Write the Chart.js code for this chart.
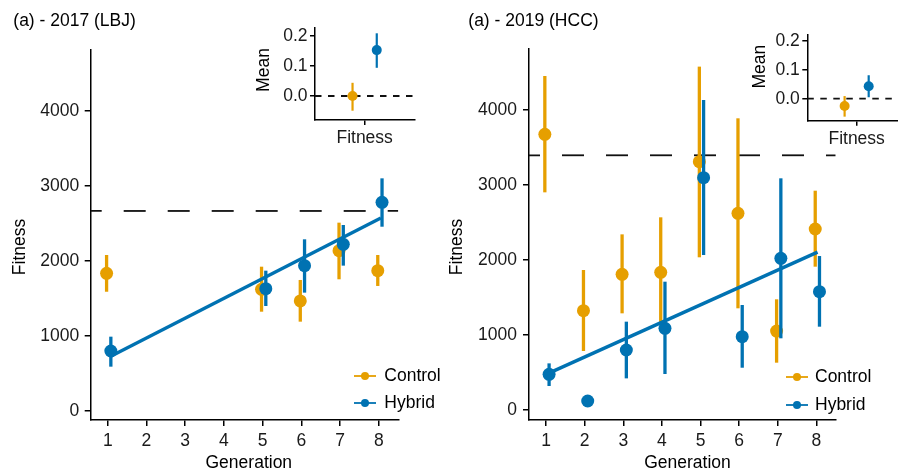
<!DOCTYPE html>
<html>
<head>
<meta charset="utf-8">
<script src="https://cdn.jsdelivr.net/npm/chart.js@4.4.1/dist/chart.umd.min.js"></script>
<style>
  html, body { margin: 0; padding: 0; background: #fff; }
  #wrap { position: relative; width: 898px; height: 470px; overflow: hidden; }
  canvas { position: absolute; top: 0; }
</style>
</head>
<body>
<div id="wrap">
  <canvas id="main17" width="449" height="470" style="left:0"></canvas>
  <canvas id="main19" width="449" height="470" style="left:449px"></canvas>
  <canvas id="inset17" width="180" height="160" style="left:240px"></canvas>
  <canvas id="inset19" width="180" height="160" style="left:732px"></canvas>
</div>
<script>
/* ===== DATA ===== */
const xTicks = [1, 2, 3, 4, 5, 6, 7, 8];
const yTicks = [0, 1000, 2000, 3000, 4000];
const insetTicks = [0, 0.1, 0.2];

// 2017 (LBJ)
const gens17 = [1, 5, 6, 7, 8];
const ctrl17 = [1835, 1622, 1467, 2137, 1871];
const ctrl17Lo = [1590, 1324, 1191, 1756, 1667];
const ctrl17Hi = [2080, 1924, 1747, 2511, 2080];
const hyb17 = [800, 1631, 1938, 2222, 2782];
const hyb17Lo = [591, 1400, 1578, 1938, 2457];
const hyb17Hi = [991, 1871, 2289, 2480, 3102];
const fit17X = [1.08, 8.05];
const fit17Y = [730, 2574];
const ref17 = 2667;

// 2019 (HCC)
const gens19 = [1, 2, 3, 4, 5, 6, 7, 8];
const ctrl19 = [3676, 1324, 1809, 1836, 3311, 2622, 1053, 2413];
const ctrl19Lo = [2902, 787, 1289, 1170, 2036, 1356, 631, 1911];
const ctrl19Hi = [4453, 1867, 2342, 2569, 4578, 3889, 1476, 2924];
const hyb19 = [476, 120, 800, 1089, 3098, 978, 2022, 1578];
const hyb19Lo = [320, null, 422, 480, 2067, 564, 956, 1111];
const hyb19Hi = [622, null, 1178, 1711, 4133, 1400, 3089, 2053];
const fit19X = [1.06, 8.03];
const fit19Y = [489, 2105];
const ref19 = 3396;

// inset means
const insetMean17 = [0.0, 0.153];
const insetLo17 = [-0.049, 0.094];
const insetHi17 = [0.044, 0.209];
const insetMean19 = [-0.025, 0.043];
const insetLo19 = [-0.062, 0.005];
const insetHi19 = [0.009, 0.081];

/* ===== STYLE ===== */
const ORANGE = "#E69F00";
const BLUE = "#0072B2";
const FAMILY = "'Liberation Sans', Arial, Helvetica, sans-serif";
const FONT = { family: FAMILY, size: 17.5 };
const DODGE_C = -0.03, DODGE_H = 0.08, INSET_DODGE = 0.122;
const X_MIN = 0.56, X_MAX = 8.5;

/* ===== PLUGINS ===== */
const errorBars = {
  id: "errorBars",
  beforeDatasetDraw(chart, args) {
    const ds = chart.data.datasets[args.index];
    if (!ds.lo) return;
    const xs = chart.scales.x, ys = chart.scales.y, ctx = chart.ctx;
    ctx.save();
    ctx.strokeStyle = ds.backgroundColor;
    ctx.lineWidth = ds.errWidth;
    ds.data.forEach((p, i) => {
      if (ds.lo[i] == null) return;
      const px = xs.getPixelForValue(p.x);
      ctx.beginPath();
      ctx.moveTo(px, ys.getPixelForValue(ds.lo[i]));
      ctx.lineTo(px, ys.getPixelForValue(ds.hi[i]));
      ctx.stroke();
    });
    ctx.restore();
  }
};

const panelText = {
  id: "panelText",
  afterDraw(chart, args, opts) {
    const ctx = chart.ctx;
    ctx.save();
    ctx.fillStyle = "#000";
    ctx.font = FONT.size + "px " + FAMILY;
    ctx.textBaseline = "middle";
    (opts.items || []).forEach(t => {
      ctx.save();
      ctx.translate(t.x, t.y);
      if (t.rot) ctx.rotate(t.rot);
      ctx.textAlign = t.align || "center";
      ctx.fillText(t.text, 0, 0);
      ctx.restore();
    });
    const lg = opts.legend;
    if (lg) {
      lg.rows.forEach((r, i) => {
        const y = lg.y[i];
        ctx.strokeStyle = r.color;
        ctx.lineWidth = 1.8;
        ctx.beginPath();
        ctx.moveTo(lg.kx - 11, y);
        ctx.lineTo(lg.kx + 11, y);
        ctx.stroke();
        ctx.fillStyle = r.color;
        ctx.beginPath();
        ctx.arc(lg.kx, y, 4, 0, Math.PI * 2);
        ctx.fill();
        ctx.fillStyle = "#000";
        ctx.textAlign = "left";
        ctx.fillText(r.label, lg.tx, y);
      });
    }
    ctx.restore();
  }
};

function pts(xs, ys, off) {
  return xs.map((x, i) => ({ x: x + off, y: ys[i] }));
}

function axisGrid(len) {
  return { display: true, drawOnChartArea: false, drawTicks: true, tickLength: len, color: "#000", lineWidth: 1.5 };
}

/* ===== MAIN PANELS ===== */
function mainChart(id, d) {
  return new Chart(document.getElementById(id), {
    type: "scatter",
    data: {
      datasets: [
        { label: "fit", type: "line", data: pts(d.fitX, d.fitY, 0), borderColor: BLUE, borderWidth: 3.4,
          pointRadius: 0, showLine: true, order: 0 },
        { label: "Hybrid", data: pts(d.gens, d.hyb, DODGE_H), lo: d.hybLo, hi: d.hybHi, errWidth: 3.3,
          backgroundColor: BLUE, borderWidth: 0, pointRadius: 6.5, order: 1 },
        { label: "Control", data: pts(d.gens, d.ctrl, DODGE_C), lo: d.ctrlLo, hi: d.ctrlHi, errWidth: 3.3,
          backgroundColor: ORANGE, borderWidth: 0, pointRadius: 6.5, order: 2 },
        { label: "ref", type: "line", data: [{ x: X_MIN, y: d.ref }, { x: X_MAX, y: d.ref }], borderColor: "#111",
          borderWidth: 1.8, borderDash: [22, 22], borderDashOffset: 11, pointRadius: 0, showLine: true, order: 3 }
      ]
    },
    options: {
      responsive: false, animation: false, devicePixelRatio: 1, events: [],
      layout: { padding: d.pad },
      scales: {
        x: {
          type: "linear", min: X_MIN, max: X_MAX,
          afterBuildTicks: s => { s.ticks = xTicks.map(v => ({ value: v })); },
          afterFit: s => { s.height = 50; },
          grid: axisGrid(6), border: { display: true, color: "#000", width: 1.5 },
          ticks: { color: "#1a1a1a", font: FONT, padding: 5, maxRotation: 0, autoSkip: false, callback: v => String(v) }
        },
        y: {
          type: "linear", min: d.yMin, max: 4813,
          afterBuildTicks: s => { s.ticks = yTicks.map(v => ({ value: v })); },
          afterFit: s => { s.width = d.yWidth; },
          grid: axisGrid(6), border: { display: true, color: "#000", width: 1.5 },
          ticks: { color: "#1a1a1a", font: FONT, padding: d.yPad, autoSkip: false, callback: v => String(v) }
        }
      },
      plugins: {
        legend: { display: false }, tooltip: { enabled: false },
        panelText: {
          items: [
            { text: d.title, x: d.titleX, y: 21, align: "left" },
            { text: "Fitness", x: d.yTitleX, y: 247, rot: -Math.PI / 2 },
            { text: "Generation", x: d.xTitleX, y: 463 }
          ],
          legend: { kx: d.legKx, tx: d.legTx, y: d.legY,
            rows: [{ label: "Control", color: ORANGE }, { label: "Hybrid", color: BLUE }] }
        }
      }
    },
    plugins: [errorBars, panelText]
  });
}

/* ===== INSETS ===== */
function insetChart(id, d) {
  return new Chart(document.getElementById(id), {
    type: "scatter",
    data: {
      datasets: [
        { label: "Hybrid", data: [{ x: 1 + INSET_DODGE, y: d.mean[1] }], lo: [d.lo[1]], hi: [d.hi[1]], errWidth: 2.2,
          backgroundColor: BLUE, borderWidth: 0, pointRadius: 5, order: 1 },
        { label: "Control", data: [{ x: 1 - INSET_DODGE, y: d.mean[0] }], lo: [d.lo[0]], hi: [d.hi[0]], errWidth: 2.2,
          backgroundColor: ORANGE, borderWidth: 0, pointRadius: 5, order: 2 },
        { label: "zero", type: "line", data: [{ x: 0.5, y: 0 }, { x: 1.5, y: 0 }], borderColor: "#111",
          borderWidth: 1.8, borderDash: [6.5, 6.5], pointRadius: 0, showLine: true, order: 3 }
      ]
    },
    options: {
      responsive: false, animation: false, devicePixelRatio: 1, events: [],
      layout: { padding: d.pad },
      scales: {
        x: {
          type: "linear", min: 0.5, max: 1.5,
          afterBuildTicks: s => { s.ticks = [{ value: 1 }]; },
          afterFit: s => { s.height = d.xHeight; },
          grid: axisGrid(5), border: { display: true, color: "#000", width: 1.5 },
          ticks: { color: "#1a1a1a", font: FONT, padding: 2.5, maxRotation: 0, callback: () => "Fitness" }
        },
        y: {
          type: "linear", min: d.yMin, max: d.yMax,
          afterBuildTicks: s => { s.ticks = insetTicks.map(v => ({ value: v })); },
          afterFit: s => { s.width = d.yWidth; },
          grid: axisGrid(5), border: { display: true, color: "#000", width: 1.5 },
          ticks: { color: "#1a1a1a", font: FONT, padding: 2.5, autoSkip: false, callback: v => v.toFixed(1) }
        }
      },
      plugins: {
        legend: { display: false }, tooltip: { enabled: false },
        panelText: { items: [{ text: "Mean", x: d.meanX, y: d.meanY, rot: -Math.PI / 2 }] }
      }
    },
    plugins: [errorBars, panelText]
  });
}

/* ===== INIT ===== */
mainChart("main17", {
  gens: gens17, ctrl: ctrl17, ctrlLo: ctrl17Lo, ctrlHi: ctrl17Hi,
  hyb: hyb17, hybLo: hyb17Lo, hybHi: hyb17Hi, fitX: fit17X, fitY: fit17Y, ref: ref17,
  pad: { top: 50, right: 50.7, bottom: 0, left: 0 }, yWidth: 90.7, yPad: 5.5, yMin: -120,
  title: "(a) - 2017 (LBJ)", titleX: 13.3, yTitleX: 19.7, xTitleX: 248.8,
  legKx: 365, legTx: 384.3, legY: [376, 403]
});

mainChart("main19", {
  gens: gens19, ctrl: ctrl19, ctrlLo: ctrl19Lo, ctrlHi: ctrl19Hi,
  hyb: hyb19, hybLo: hyb19Lo, hybHi: hyb19Hi, fitX: fit19X, fitY: fit19Y, ref: ref19,
  pad: { top: 49, right: 62.3, bottom: 0, left: 0 }, yWidth: 80, yPad: 6, yMin: -133,
  title: "(a) - 2019 (HCC)", titleX: 19.3, yTitleX: 8.5, xTitleX: 238.5,
  legKx: 348, legTx: 366, legY: [377, 405]
});

insetChart("inset17", {
  mean: insetMean17, lo: insetLo17, hi: insetHi17,
  pad: { top: 27.3, right: 5.7, bottom: 0, left: 0 }, yWidth: 75, xHeight: 40,
  yMin: -0.08, yMax: 0.229, meanX: 24, meanY: 70
});

insetChart("inset19", {
  mean: insetMean19, lo: insetLo19, hi: insetHi19,
  pad: { top: 35, right: 6, bottom: 0, left: 0 }, yWidth: 75.3, xHeight: 39.3,
  yMin: -0.076, yMax: 0.22, meanX: 28, meanY: 66.7
});
</script>
</body>
</html>
